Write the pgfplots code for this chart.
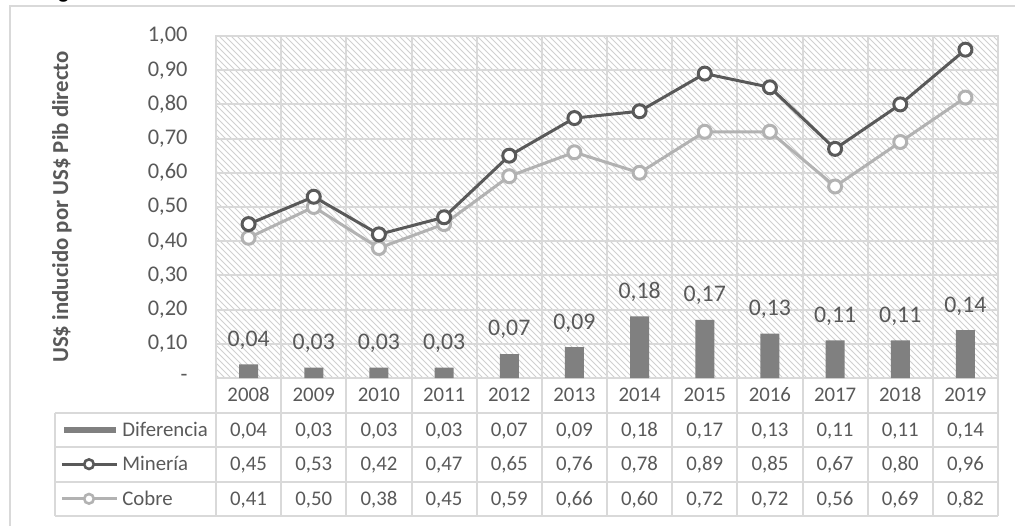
\documentclass[border=0pt]{standalone}
\usepackage{fontspec}
\setmainfont{Carlito}
\usepackage{pgfplots}
\pgfplotsset{compat=1.18}
\usepackage{pgfplotstable}
\usetikzlibrary{patterns}

\definecolor{gridc}{RGB}{217,217,217}
\definecolor{txt}{RGB}{89,89,89}
\definecolor{minc}{RGB}{89,89,89}
\definecolor{cobc}{RGB}{178,178,178}
\definecolor{barc}{RGB}{128,128,128}
\definecolor{hatch}{RGB}{208,208,208}

\pgfplotstableread{
x year dif min cob
0 2008 0.04 0.45 0.41
1 2009 0.03 0.53 0.50
2 2010 0.03 0.42 0.38
3 2011 0.03 0.47 0.45
4 2012 0.07 0.65 0.59
5 2013 0.09 0.76 0.66
6 2014 0.18 0.78 0.60
7 2015 0.17 0.89 0.72
8 2016 0.13 0.85 0.72
9 2017 0.11 0.67 0.56
10 2018 0.11 0.80 0.69
11 2019 0.14 0.96 0.82
}\data

\newcommand{\fmt}{\pgfmathprintnumber[fixed,fixed zerofill,precision=2,use comma]{\pgfplotspointmeta}}
\newcommand{\tabfont}{\fontsize{10.4}{12}\selectfont}

\begin{document}
\begin{tikzpicture}
\useasboundingbox (-108pt,-73.5pt) rectangle (399.5pt,189pt);
\begin{scope}
\clip (-108pt,-73.5pt) rectangle (399.5pt,189pt);
\begin{axis}[
  at={(0,0)}, anchor=south west,
  scale only axis, width=391pt, height=171pt,
  xmin=-0.5, xmax=11.5, ymin=0, ymax=1,
  clip=false,
  axis line style={draw=gridc, line width=1pt},
  axis background/.style={pattern=north west lines, pattern color=hatch},
  major tick length=0pt,
  xtick={0,1,2,3,4,5,6,7,8,9,10,11},
  xticklabels={2008,2009,2010,2011,2012,2013,2014,2015,2016,2017,2018,2019},
  x tick label style={anchor=base, inner sep=0pt, yshift=-11.9pt, font=\tabfont, color=txt},
  extra x ticks={0.5,1.5,2.5,3.5,4.5,5.5,6.5,7.5,8.5,9.5,10.5},
  extra x tick labels={},
  extra x tick style={grid=major, major tick length=0pt},
  ytick={0,0.1,0.2,0.3,0.4,0.5,0.6,0.7,0.8,0.9,1},
  yticklabels={{-\hspace{5pt}},{0,10},{0,20},{0,30},{0,40},{0,50},{0,60},{0,70},{0,80},{0,90},{1,00}},
  y tick label style={xshift=-10.7pt, font=\fontsize{11.2}{13}\selectfont, color=txt},
  ymajorgrids,
  grid style={draw=gridc, line width=1pt},
  /pgf/number format/assume math mode=true,
]
\addplot[ybar, bar width=9.5pt, fill=barc, draw=none,
  point meta=y, nodes near coords={\fmt},
  nodes near coords style={font=\fontsize{11.9}{14}\selectfont, color=txt, yshift=4pt}]
  table[x=x, y=dif]{\data};
\addplot[color=cobc, line width=1.5pt, mark=*, mark size=3.25pt,
  mark options={fill=white, draw=cobc, line width=1.5pt}]
  table[x=x, y=cob]{\data};
\addplot[color=minc, line width=1.5pt, mark=*, mark size=3.25pt,
  mark options={fill=white, draw=minc, line width=1.5pt}]
  table[x=x, y=min]{\data};
% table text
\addplot[draw=none, mark=none, point meta=\thisrow{dif}, nodes near coords={\fmt},
  nodes near coords style={anchor=base, inner sep=0pt, font=\tabfont, color=txt}]
  table[x=x, y expr=-0.1708]{\data};
\addplot[draw=none, mark=none, point meta=\thisrow{min}, nodes near coords={\fmt},
  nodes near coords style={anchor=base, inner sep=0pt, font=\tabfont, color=txt}]
  table[x=x, y expr=-0.2713]{\data};
\addplot[draw=none, mark=none, point meta=\thisrow{cob}, nodes near coords={\fmt},
  nodes near coords style={anchor=base, inner sep=0pt, font=\tabfont, color=txt}]
  table[x=x, y expr=-0.3725]{\data};
\end{axis}
% table grid
\begin{scope}[draw=gridc, line width=1pt]
  \foreach \yy in {17.25,34.5,51.75,69} {\draw (-80.5pt,-\yy pt) -- (391pt,-\yy pt);}
  \foreach \k in {0,...,12} {\draw (\k*32.583pt,0pt) -- (\k*32.583pt,-69pt);}
  \draw (-80.5pt,-17.25pt) -- (-80.5pt,-69pt);
\end{scope}
% legend keys inside table
\fill[barc] (-76pt,-27.4pt) rectangle (-50pt,-24.4pt);
\node[anchor=base west, inner sep=0pt, font=\tabfont, color=txt] at (-47pt,-29.2pt) {Diferencia};
\draw[minc, line width=1.5pt] (-77pt,-43.1pt) -- (-49.5pt,-43.1pt);
\draw[minc, line width=1.3pt, fill=white] (-63.5pt,-43.1pt) circle (2.4pt);
\node[anchor=base west, inner sep=0pt, font=\tabfont, color=txt] at (-47pt,-46.4pt) {Minería};
\draw[cobc, line width=1.5pt] (-77pt,-60.4pt) -- (-49.5pt,-60.4pt);
\draw[cobc, line width=1.3pt, fill=white] (-63.5pt,-60.4pt) circle (2.4pt);
\node[anchor=base west, inner sep=0pt, font=\tabfont, color=txt] at (-47pt,-63.7pt) {Cobre};
% y label
\node[rotate=90, font=\bfseries\fontsize{11.4}{13}\selectfont, color=txt] at (-77pt,85.5pt) {US\$ inducido por US\$ Pib directo};
% outer frame
\draw[gridc, line width=1pt] (-103pt,-80pt) -- (-103pt,186pt) -- (405pt,186pt);
% cut title
\node[anchor=base west, inner sep=0pt, font=\bfseries\fontsize{11}{13}\selectfont] at (-79pt,189.6pt) {g};
\end{scope}
\end{tikzpicture}
\end{document}
